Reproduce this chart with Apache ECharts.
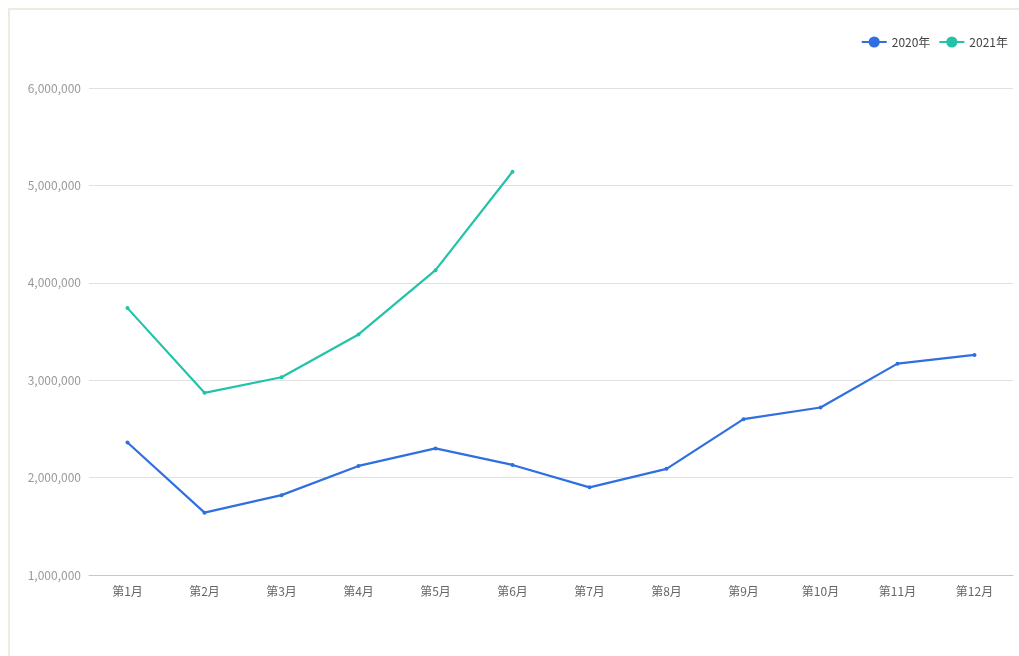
<!DOCTYPE html>
<html>
<head>
<meta charset="utf-8">
<script src="https://cdn.jsdelivr.net/npm/echarts@6/dist/echarts.min.js"></script>
<style>
  html, body { margin: 0; padding: 0; background: #fff; }
  .frame {
    position: absolute; left: 8px; top: 8px; width: 1011px; height: 648px;
    border-left: 2px solid #efebe1; border-top: 2px solid #efebe1;
  }
  #chart { position: absolute; left: 10px; top: 10px; width: 1009px; height: 646px; }
</style>
</head>
<body>
<div class="frame"></div>
<div id="chart"></div>
<script>
const months = ['第1月', '第2月', '第3月', '第4月', '第5月', '第6月',
  '第7月', '第8月', '第9月', '第10月', '第11月', '第12月']
const seriesNames = ['2020年', '2021年']
const values2020 = [2360000, 1640000, 1820000, 2120000, 2300000, 2130000,
  1900000, 2090000, 2600000, 2720000, 3170000, 3260000]
const values2021 = [3740000, 2870000, 3030000, 3470000, 4130000, 5140000,
  null, null, null, null, null, null]
const yMin = 1000000
const yMax = 6000000
const yStep = 1000000

const chart = echarts.init(document.getElementById('chart'))

function formatNum(value) {
  return value.toLocaleString('en-US')
}

chart.setOption({
  animation: false,
  textStyle: { fontFamily: '"Noto Sans CJK SC", "Noto Sans", sans-serif' },
  color: ['#2f6fdf', '#22c3a8'],
  legend: {
    data: seriesNames,
    right: 6,
    top: 21,
    itemWidth: 25,
    itemHeight: 14,
    itemGap: 8,
    textStyle: { color: '#444', fontSize: 12 }
  },
  grid: { left: 79, right: 6, top: 78, bottom: 81 },
  xAxis: {
    type: 'category',
    data: months,
    boundaryGap: true,
    axisLine: { lineStyle: { color: '#c8c8c8' } },
    axisTick: { lineStyle: { color: '#c8c8c8' } },
    axisLabel: { color: '#666', fontSize: 12, margin: 10 }
  },
  yAxis: {
    type: 'value',
    min: yMin,
    max: yMax,
    interval: yStep,
    axisLine: { show: false },
    axisTick: { show: false },
    axisLabel: { color: '#999', fontSize: 12, margin: 8, formatter: formatNum },
    splitLine: { lineStyle: { color: '#e0e0e0' } }
  },
  series: [
    {
      name: seriesNames[0],
      type: 'line',
      data: values2020,
      symbol: 'circle',
      symbolSize: 4,
      lineStyle: { width: 2.2 }
    },
    {
      name: seriesNames[1],
      type: 'line',
      data: values2021,
      symbol: 'circle',
      symbolSize: 4,
      lineStyle: { width: 2.2 }
    }
  ]
})
</script>
</body>
</html>
